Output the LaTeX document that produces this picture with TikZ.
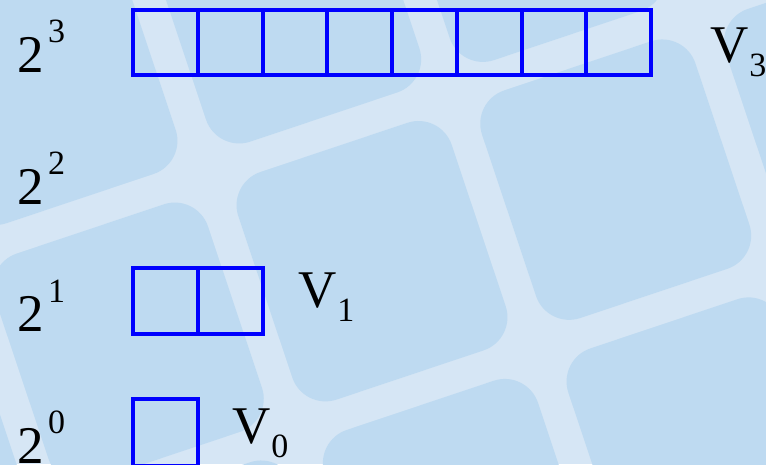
\documentclass[tikz,border=0pt]{standalone}
\usepackage{fontspec}
\setmainfont{Liberation Serif}
\definecolor{stripe}{RGB}{214,230,245}
\definecolor{tile}{RGB}{190,218,241}
\definecolor{cellblue}{RGB}{0,0,255}
\newcommand{\supr}[1]{\hspace{4pt}\raisebox{30pt}{\fontsize{34}{34}\selectfont #1}}
\newcommand{\subr}[1]{\hspace{1pt}\raisebox{-14pt}{\fontsize{34}{34}\selectfont #1}}
\begin{document}
\begin{tikzpicture}[x=1pt,y=1pt,
  cell/.style={draw=cellblue, line width=4pt, minimum width=64.75pt, minimum height=65pt, inner sep=0pt, outer sep=0pt},
  lab/.style={anchor=base west, inner sep=0pt, font=\fontsize{53}{60}\selectfont}]
\useasboundingbox (0,0) rectangle (766,464);
\clip (0,0) rectangle (766,464);
\fill[stripe] (0,0) rectangle (766,464);
\begin{scope}[shift={(207,291)}, rotate=18.5]
\foreach \i in {-3,...,2}{
  \foreach \k in {-2,...,1}{
    \fill[tile, rounded corners=35pt] ({257*\i+16},{272*\k+16}) rectangle ({257*(\i+1)-16},{272*(\k+1)-16});
  }
}
\end{scope}
% boxes
\foreach \j in {1,...,8}{
  \node[cell] (c3\j) at ({133+64.75*(\j-0.5)},421.5) {};
}
\foreach \j in {1,2}{
  \node[cell] (c1\j) at ({133+64.75*(\j-0.5)},163) {};
}
\node[cell, minimum height=67pt] (c01) at ({133+64.75*0.5},31.5) {};
% row labels
\node[lab] (p3) at (17.5,391) {2\supr{3}};
\node[lab] (p2) at (17.5,259) {2\supr{2}};
\node[lab] (p1) at (17.5,132) {2\supr{1}};
\node[lab] (p0) at (17.5,0.5) {2\supr{0}};
% V labels
\node[lab] (v3) at (710,401) {V\subr{3}};
\node[lab] (v1) at (298,157) {V\subr{1}};
\node[lab] (v0) at (232,21) {V\subr{0}};
\end{tikzpicture}
\end{document}
